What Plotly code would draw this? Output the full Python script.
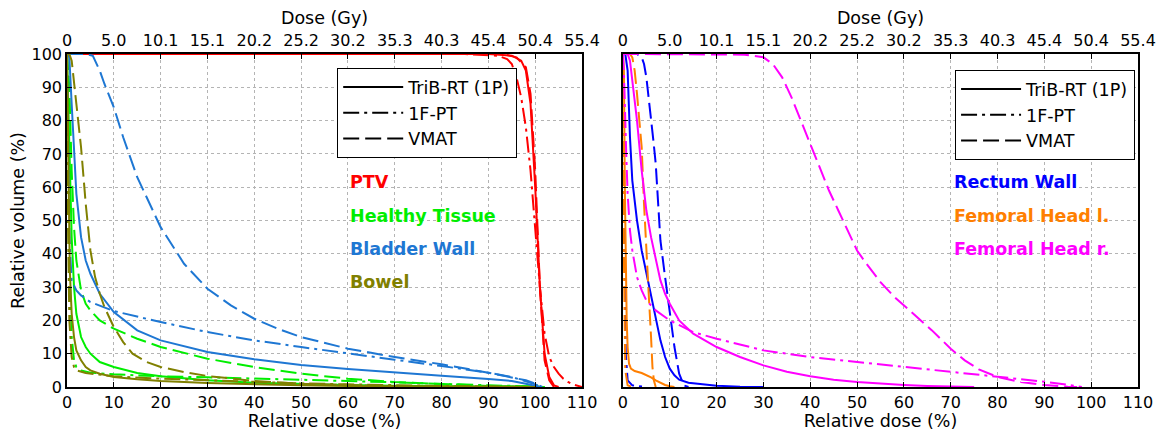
import plotly.graph_objects as go

# ---------------- data (relative dose %, relative volume %) ----------------
dose_ticks = [0, 10, 20, 30, 40, 50, 60, 70, 80, 90, 100, 110]
gy_labels = ["0", "5.0", "10.1", "15.1", "20.2", "25.2", "30.2", "35.3", "40.3", "45.4", "50.4", "55.4"]
vol_ticks = [0, 10, 20, 30, 40, 50, 60, 70, 80, 90, 100]
plans = ["TriB-RT (1P)", "1F-PT", "VMAT"]

# Left panel
ptv_trib = [(0,100),(90,100),(95,99.5),(97,98),(98,95),(99,85),(100,60),(101,30),(102,10),(103,3),(104,0.5),(105,0)]
ptv_1fpt = [(0,100),(85,100),(92,99.5),(94,98.5),(95,97),(96,93),(97,87),(98,78),(99,65),(100,48),(101,30),(102,16),(103,9),(104,6),(105,4),(106,2.5),(107,1.5),(108,0.8),(109,0.3),(110,0)]
ptv_vmat = [(0,100),(93,100),(96,99),(98,96),(99,88),(100,65),(101,30),(102,8),(103,2),(104,0)]

ht_trib = [(0,100),(0.5,70),(1,45),(1.5,30),(2,22),(3,15),(4,12),(5,10),(7,7.5),(10,6),(15,4.2),(20,3.2),(30,2),(40,1.3),(50,0.9),(60,0.6),(70,0.4),(80,0.3),(90,0.2),(100,0.1),(102,0)]
ht_1fpt = [(0,100),(0.3,60),(0.7,30),(1,15),(1.5,8),(2,6),(3,5),(5,4.3),(10,3.8),(20,3.2),(30,2.9),(40,2.6),(50,2.3),(60,1.8),(70,1.4),(80,0.9),(90,0.5),(100,0.2),(102,0)]
ht_vmat = [(0,100),(0.5,90),(1,65),(1.5,48),(2,38),(3,29),(4,25),(5,23),(7,20),(10,17.5),(15,14.5),(20,12),(30,8.5),(40,6),(50,4),(60,2.5),(70,1.5),(80,0.8),(90,0.3),(100,0.1),(102,0)]

bw_trib = [(0,100),(0.5,99),(1,85),(1.5,70),(2,58),(3,45),(4,38),(5,34),(7,28),(10,22.5),(15,17),(20,14),(30,10.5),(40,8.3),(50,6.6),(60,5.4),(70,4.3),(80,3.4),(90,2.4),(95,1.8),(98,1.0),(100,0.3),(101,0)]
bw_1fpt = [(0,100),(0.2,80),(0.5,45),(1,32),(2,29),(3,27.5),(5,25.5),(10,22.8),(20,19.5),(30,16.5),(40,14),(50,12),(60,10),(70,8.2),(80,6.3),(90,4.3),(95,3.0),(98,1.8),(100,0.8),(101.5,0)]
bw_vmat = [(0,100),(4,100),(5.5,99.5),(7,95),(8,91),(10,84),(12,75),(15,63),(20,48),(25,37),(30,29.5),(35,24.5),(40,20.5),(45,17.5),(50,15),(60,11.5),(70,9),(80,6.8),(90,4.3),(95,3),(98,2),(100,1),(101.5,0)]

bo_trib = [(0,100),(0.3,60),(0.6,35),(1,22),(1.5,15),(2,11),(3,8),(4,6),(5,5),(7,4),(10,3),(15,2.3),(20,1.8),(30,1.2),(40,0.8),(50,0.5),(60,0.3),(70,0.2),(80,0.1),(90,0.05),(100,0)]
bo_1fpt = [(0,100),(0.2,50),(0.5,20),(1,9),(1.5,6),(2,5),(4,4.2),(7,3.6),(10,3.2),(20,2.5),(30,2),(40,1.5),(50,1.1),(60,0.8),(70,0.5),(80,0.3),(90,0.15),(100,0)]
bo_vmat = [(0,100),(0.5,100),(1,98),(1.5,92),(2,85),(3,72),(4,55),(5,41),(6,33),(7,28),(8,24),(10,18),(12,13.5),(14,10),(17,7.5),(20,6),(25,4.5),(30,3.3),(40,1.8),(50,1),(60,0.5),(70,0.2),(80,0.1),(90,0)]

# Right panel
rw_trib = [(0,100),(0.5,100),(1,95),(1.5,75),(2,62),(3,50),(4,41),(5,34),(6,27),(7,20),(8,14),(9,9),(10,5.5),(11,3.5),(12,2.2),(14,1.3),(17,0.8),(20,0.4),(25,0.1),(30,0)]
rw_1fpt = [(0,100),(0.3,50),(0.6,10),(1,2),(2,0.5),(5,0)]
rw_vmat = [(0,100),(3,100),(4,99),(4.5,97),(5,93),(5.5,87),(6,80),(6.5,74),(7,67),(7.5,55),(8,44),(9,33),(10,23),(11,12),(12,4),(12.5,2),(13,0.5),(14,0)]

fl_trib = [(0,100),(0.2,95),(0.4,60),(0.6,35),(0.8,20),(1,12),(1.3,7),(1.7,5.5),(2.5,4.8),(4,4.2),(5,3.6),(6,2.9),(7,2.0),(8,1.2),(9,0.6),(10,0.2),(11,0)]
fl_1fpt = [(0,100),(0.2,40),(0.5,5),(1,0.5),(2,0)]
fl_vmat = [(0,100),(1.5,100),(2,99),(2.5,95),(3,88),(3.5,80),(4,72),(4.5,55),(5,40),(5.5,28),(6,15),(6.3,6),(6.6,2),(7,0)]

fr_trib = [(0,100),(1,100),(1.5,98),(2,92),(3,80),(4,65),(5,53),(6,45),(7,38),(8,32),(9,28),(10,25),(12,20),(15,16),(20,12),(25,9),(30,6.5),(35,4.6),(40,3.2),(45,2.2),(50,1.5),(55,1),(60,0.6),(65,0.3),(70,0.1),(75,0)]
fr_1fpt = [(0,100),(0.3,90),(0.7,70),(1,58),(1.5,47),(2,41),(3,33),(4,29),(5,26),(7,23),(10,20),(15,16.5),(20,14.5),(30,11),(40,9),(50,7.5),(60,6),(70,4.5),(80,3.2),(85,2.4),(90,1.6),(95,0.7),(97,0.2),(98,0)]
fr_vmat = [(0,100),(20,100),(26,99.8),(30,99),(32,97),(34,93),(36,87),(38,80),(40,73),(42,66),(44,59),(46,53),(48,47),(50,41),(52,37),(55,31.5),(58,27),(62,22),(66,17),(70,11.5),(73,8),(76,5.3),(80,3),(85,1.5),(90,0.6),(95,0.1),(97,0)]

left_structs = [("PTV", "#ff0000", [ptv_trib, ptv_1fpt, ptv_vmat]),
                ("Healthy Tissue", "#00ee00", [ht_trib, ht_1fpt, ht_vmat]),
                ("Bladder Wall", "#1e77d3", [bw_trib, bw_1fpt, bw_vmat]),
                ("Bowel", "#808000", [bo_trib, bo_1fpt, bo_vmat])]
right_structs = [("Rectum Wall", "#0000ff", [rw_trib, rw_1fpt, rw_vmat]),
                 ("Femoral Head l.", "#ff7f00", [fl_trib, fl_1fpt, fl_vmat]),
                 ("Femoral Head r.", "#ff00ff", [fr_trib, fr_1fpt, fr_vmat])]

label_y = [61.5, 51.5, 41.5, 31.5]

# ---------------- figure ----------------
FONT = "DejaVu Sans"
DASHES = ["solid", "16px,5px,3px,5px", "16px,6px"]
LW = 2

fig = go.Figure()

def add_panel(structs, xa, ya, legend_name, label_x):
    for name, color, curves in structs:
        for curve, dash in zip(curves, DASHES):
            fig.add_trace(go.Scatter(
                x=[p[0] for p in curve], y=[p[1] for p in curve],
                mode="lines", line=dict(color=color, width=LW, dash=dash),
                xaxis=xa, yaxis=ya, showlegend=False, hoverinfo="skip"))
    for plan, dash in zip(plans, DASHES):
        fig.add_trace(go.Scatter(
            x=[None], y=[None], mode="lines", name=plan,
            line=dict(color="black", width=LW, dash=dash),
            xaxis=xa, yaxis=ya, legend=legend_name, showlegend=True))
    for (name, color, _), ly in zip(structs, label_y):
        fig.add_annotation(x=label_x, y=ly, xref=xa, yref=ya, text="<b>%s</b>" % name,
                           showarrow=False, xanchor="left", yanchor="middle",
                           font=dict(family=FONT, size=17.5, color=color))

add_panel(left_structs, "x", "y", "legend", 60)
add_panel(right_structs, "x2", "y2", "legend2", 70.3)

# dummy traces so the top axes are drawn
fig.add_trace(go.Scatter(x=[None], y=[None], xaxis="x3", yaxis="y", showlegend=False))
fig.add_trace(go.Scatter(x=[None], y=[None], xaxis="x4", yaxis="y2", showlegend=False))

grid = dict(showgrid=True, gridcolor="#b4b4b4", griddash="dot", gridwidth=1)
common_x = dict(range=[0, 110], tickmode="array", tickvals=dose_ticks, ticks="inside",
                ticklen=5, tickwidth=1, tickcolor="black", showline=True, linecolor="black",
                linewidth=1.5, zeroline=False, automargin=False,
                tickfont=dict(family=FONT, size=16, color="black"))

L_DOM = [0, 0.4809]
R_DOM = [0.5191, 1]
TF = dict(family=FONT, size=17.5)
LEGF = dict(family=FONT, size=17.5)

fig.update_layout(
    width=1157, height=431,
    margin=dict(l=67, r=19, t=54, b=44),
    paper_bgcolor="white", plot_bgcolor="white",
    font=dict(family=FONT, size=16, color="black"),
    xaxis=dict(domain=L_DOM, anchor="y", ticktext=[str(v) for v in dose_ticks], mirror=True,
               title=dict(text="Relative dose (%)", font=TF, standoff=2),
               **grid, **common_x),
    xaxis2=dict(domain=R_DOM, anchor="y2", ticktext=[str(v) for v in dose_ticks], mirror=True,
                title=dict(text="Relative dose (%)", font=TF, standoff=2),
                **grid, **common_x),
    xaxis3=dict(overlaying="x", side="top", anchor="y", ticktext=gy_labels, showgrid=False,
                title=dict(text="Dose (Gy)", font=TF, standoff=2),
                **common_x),
    xaxis4=dict(overlaying="x2", side="top", anchor="y2", ticktext=gy_labels, showgrid=False,
                title=dict(text="Dose (Gy)", font=TF, standoff=2),
                **common_x),
    yaxis=dict(domain=[0, 1], anchor="x", range=[0, 100], tickmode="array", tickvals=vol_ticks,
               ticks="inside", ticklen=5, tickcolor="black", showline=True, linecolor="black",
               linewidth=1.5, mirror=True, zeroline=False, automargin=False,
               tickfont=dict(family=FONT, size=16, color="black"),
               title=dict(text="Relative volume (%)", font=TF, standoff=2),
               **grid),
    yaxis2=dict(domain=[0, 1], anchor="x2", range=[0, 100], tickmode="array", tickvals=vol_ticks,
                showticklabels=False, ticks="inside", ticklen=5, tickcolor="black", showline=True,
                linecolor="black", linewidth=1.5, mirror=True, zeroline=False, automargin=False,
                **grid),
    legend=dict(x=0.2521, y=0.958, xanchor="left", yanchor="top", bgcolor="white",
                bordercolor="black", borderwidth=1.2, font=LEGF,
                tracegroupgap=0, itemwidth=60),
    legend2=dict(x=0.829, y=0.952, xanchor="left", yanchor="top", bgcolor="white",
                 bordercolor="black", borderwidth=1.2, font=LEGF,
                 tracegroupgap=0, itemwidth=60),
)

fig.write_html("out.html")
